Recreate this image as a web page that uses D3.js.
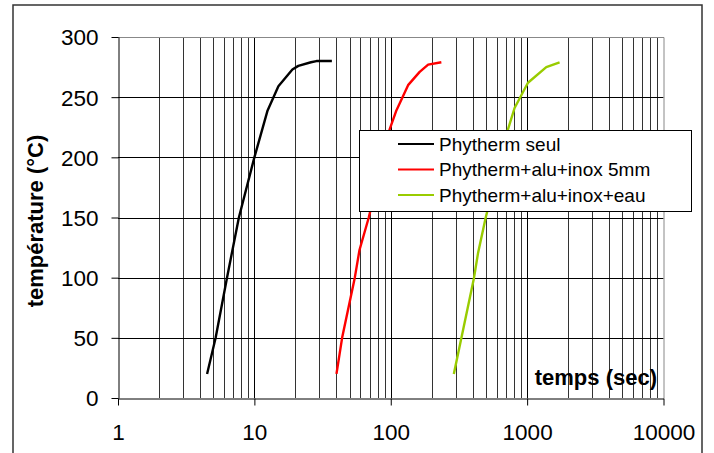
<!DOCTYPE html>
<html>
<head>
<meta charset="utf-8">
<script src="https://cdn.jsdelivr.net/npm/d3@7"></script>
<style>
  body { margin: 0; background: #fff; }
  svg { display: block; font-family: "Liberation Sans", Arial, sans-serif; }
</style>
</head>
<body>
<div id="chart"></div>
<script>
/* data: [time in s, temperature in C] */
var seul = [[4.5, 20], [5.2, 50], [6.3, 100], [7.7, 150], [10, 200], [12.5, 239],
  [15, 259], [19, 273], [21, 276], [26, 279], [28.5, 280], [37, 280]];
var inox5mm = [[40, 20], [44, 50], [54.5, 100], [59, 123], [69, 150], [98, 223],
  [110, 239], [134, 260], [163, 271], [188, 277], [235, 279]];
var inoxEau = [[290, 20], [408, 100], [436, 120], [497, 150], [723, 223],
  [809, 241], [1014, 262], [1382, 275], [1730, 279]];

var seriesNames = ["Phytherm seul", "Phytherm+alu+inox 5mm", "Phytherm+alu+inox+eau"];
var seriesColors = ["#000000", "#ff0000", "#99cc00"];
var xTicks = [1, 10, 100, 1000, 10000];
var yTicks = [0, 50, 100, 150, 200, 250, 300];

var width = 714, height = 453;
var plot = {left: 118, right: 663.5, top: 37, bottom: 398};

var svg = d3.select("#chart").append("svg")
  .attr("width", width)
  .attr("height", height);

/*outer frame*/
svg.append("rect")
  .attr("x", 13).attr("y", 5)
  .attr("width", 689).attr("height", 460)
  .attr("fill", "none")
  .attr("stroke", "#333")
  .attr("stroke-width", 1.5);

var x = d3.scaleLog().domain([1, 10000]).range([plot.left, plot.right]);
var y = d3.scaleLinear().domain([0, 300]).range([plot.bottom, plot.top]);

/*grid*/
var minor = [];
for (var d = 1; d < 10000; d *= 10)
  for (var k = 2; k <= 9; k++) minor.push(d * k);

svg.append("g").selectAll("line.minor")
  .data(minor).enter().append("line")
  .attr("x1", function(v) { return Math.round(x(v)) + 0.5; })
  .attr("x2", function(v) { return Math.round(x(v)) + 0.5; })
  .attr("y1", plot.top).attr("y2", plot.bottom)
  .attr("stroke", "#333").attr("stroke-width", 1);

svg.append("g").selectAll("line.hgrid")
  .data(yTicks.slice(1, -1)).enter().append("line")
  .attr("x1", plot.left).attr("x2", plot.right)
  .attr("y1", function(v) { return Math.round(y(v)) + 0.5; })
  .attr("y2", function(v) { return Math.round(y(v)) + 0.5; })
  .attr("stroke", "#000").attr("stroke-width", 1);

svg.append("g").selectAll("line.major")
  .data(xTicks.slice(1, -1)).enter().append("line")
  .attr("x1", function(v) { return Math.round(x(v)) + 0.5; })
  .attr("x2", function(v) { return Math.round(x(v)) + 0.5; })
  .attr("y1", plot.top).attr("y2", plot.bottom)
  .attr("stroke", "#000").attr("stroke-width", 1);

/*top & right border of plot area in grey*/
svg.append("path")
  .attr("d", "M" + (plot.left) + "," + (plot.top + 0.5) + "H" + (plot.right + 0.5) + "V" + plot.bottom)
  .attr("fill", "none").attr("stroke", "#888").attr("stroke-width", 1);

/*axes*/
var xAxis = svg.append("g")
  .attr("transform", "translate(0," + (plot.bottom + 0.5) + ")")
  .call(d3.axisBottom(x).tickValues(xTicks).tickFormat(d3.format("d")).tickSizeInner(7).tickSizeOuter(0).tickPadding(19));
var yAxis = svg.append("g")
  .attr("transform", "translate(" + (plot.left + 0.5) + ",0)")
  .call(d3.axisLeft(y).tickValues(yTicks).tickSizeInner(7).tickSizeOuter(0).tickPadding(13));

[xAxis, yAxis].forEach(function(a) {
  a.select(".domain").attr("stroke", "#000");
  a.selectAll(".tick line").attr("stroke", "#000");
  a.selectAll("text")
    .style("font-size", "22.5px")
    .style("font-family", "'Liberation Sans', Arial, sans-serif")
    .attr("fill", "#000");
});
yAxis.selectAll(".tick text").attr("dy", "0.35em");

/*curves*/
var line = d3.line()
  .x(function(p) { return x(p[0]); })
  .y(function(p) { return y(p[1]); });

[seul, inox5mm, inoxEau].forEach(function(s, i) {
  svg.append("path")
    .datum(s)
    .attr("d", line)
    .attr("fill", "none")
    .attr("stroke", seriesColors[i])
    .attr("stroke-width", 2.4)
    .attr("stroke-linejoin", "round");
});

/*axis titles*/
svg.append("text")
  .attr("transform", "translate(43,221) rotate(-90)")
  .attr("text-anchor", "middle")
  .style("font-size", "22px")
  .style("font-weight", "bold")
  .text("température (°C)");

svg.append("text")
  .attr("x", 657).attr("y", 385)
  .attr("text-anchor", "end")
  .style("font-size", "22px")
  .style("font-weight", "bold")
  .text("temps (sec)");

/*legend*/
var legend = svg.append("g").attr("transform", "translate(359,130)");
legend.append("rect")
  .attr("x", 0.5).attr("y", 0.5)
  .attr("width", 332).attr("height", 81)
  .attr("fill", "#fff")
  .attr("stroke", "#000").attr("stroke-width", 1);

var rows = legend.selectAll("g.row")
  .data(seriesNames).enter().append("g")
  .attr("transform", function(dd, i) { return "translate(0," + (14 + i * 25.5) + ")"; });
rows.append("line")
  .attr("x1", 39).attr("x2", 75)
  .attr("stroke", function(dd, i) { return seriesColors[i]; })
  .attr("stroke-width", 2);
rows.append("text")
  .attr("x", 80).attr("dy", "0.35em")
  .style("font-size", "19px")
  .text(function(dd) { return dd; });
</script>
</body>
</html>
